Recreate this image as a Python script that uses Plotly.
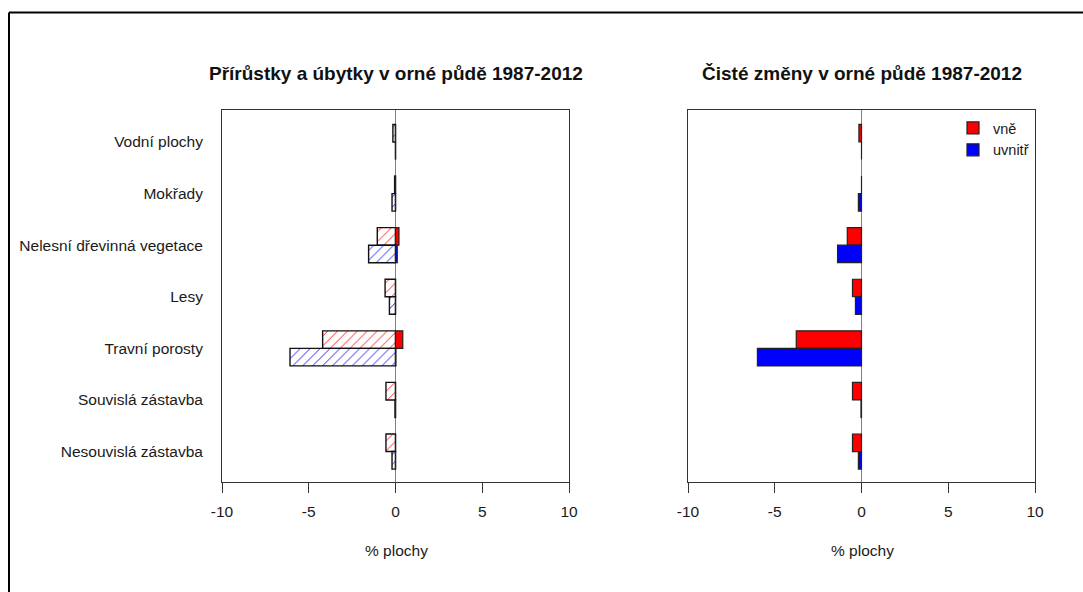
import plotly.graph_objects as go

categories = ["Vodní plochy", "Mokřady", "Nelesní dřevinná vegetace", "Lesy",
              "Travní porosty", "Souvislá zástavba", "Nesouvislá zástavba"]
# left panel: losses (hatched) and gains (solid), outside (red) / inside (blue)
loss_outside = [-0.15, -0.05, -1.05, -0.60, -4.20, -0.55, -0.55]
gain_outside = [0.0, 0.0, 0.20, 0.0, 0.42, 0.0, 0.0]
loss_inside = [0.0, -0.20, -1.55, -0.35, -6.08, -0.03, -0.20]
gain_inside = [0.0, 0.0, 0.10, 0.0, 0.02, 0.0, 0.0]
# right panel: net changes
net_outside = [-0.15, 0.0, -0.82, -0.52, -3.76, -0.52, -0.52]
net_inside = [0.0, -0.18, -1.38, -0.35, -6.00, -0.03, -0.18]
x_ticks = [-10, -5, 0, 5, 10]
x_tick_labels = ["-10", "-5", "0", "5", "10"]
series_names = ["vně", "uvnitř"]
title_left = "Přírůstky a úbytky v orné půdě 1987-2012"
title_right = "Čisté změny v orné půdě 1987-2012"
x_title = "% plochy"

W, H = 1083, 592
FONT = "Liberation Sans, Arial, sans-serif"
RED, BLUE = "#FF0000", "#0000FF"
BW = 0.34
TXT = "#1a1a1a"

def px(x):
    return x / W

def py(y):
    return 1 - y / H

fig = go.Figure()

def hatched(vals, color, offset, xa, ya):
    return go.Bar(y=categories, x=vals, orientation="h", width=BW, offset=offset,
                  xaxis=xa, yaxis=ya, showlegend=False, hoverinfo="x+y",
                  marker=dict(color="white", line=dict(color="#111", width=1.4),
                              pattern=dict(shape="/", fgcolor=color, bgcolor="white",
                                           size=7, solidity=0.12, fillmode="replace")))

def solid(vals, color, offset, xa, ya, name=None, legend=False):
    return go.Bar(y=categories, x=vals, orientation="h", width=BW, offset=offset,
                  xaxis=xa, yaxis=ya, showlegend=legend, name=name,
                  marker=dict(color=color, line=dict(color="#222", width=1.2)))

fig.add_trace(hatched(loss_outside, RED, -BW, "x", "y"))
fig.add_trace(solid(gain_outside, RED, -BW, "x", "y"))
fig.add_trace(hatched(loss_inside, BLUE, 0, "x", "y"))
fig.add_trace(solid(gain_inside, BLUE, 0, "x", "y"))
fig.add_trace(solid(net_outside, RED, -BW, "x2", "y2", series_names[0], True))
fig.add_trace(solid(net_inside, BLUE, 0, "x2", "y2", series_names[1], True))

yrange = [6.59, -0.62]
xcommon = dict(range=[-10, 10], tickvals=x_ticks, ticktext=x_tick_labels,
               ticks="outside", ticklen=10, ticklabelstandoff=5,
               tickcolor="#333", tickwidth=1, showline=True, mirror=True,
               linecolor="#333", linewidth=1, showgrid=False, zeroline=True,
               zerolinecolor="#808080", zerolinewidth=1,
               tickfont=dict(family=FONT, size=15.5, color=TXT), automargin=False,
               fixedrange=True)
ycommon = dict(type="category", range=yrange, showline=True, mirror=True,
               linecolor="#333", linewidth=1, showgrid=False, ticks="",
               automargin=False, fixedrange=True)

fig.update_layout(
    width=W, height=H, barmode="overlay",
    margin=dict(l=0, r=0, t=0, b=0),
    paper_bgcolor="white", plot_bgcolor="white",
    xaxis=dict(domain=[px(222), px(569)], anchor="y", **xcommon),
    yaxis=dict(domain=[py(482), py(110)], anchor="x", showticklabels=True,
               ticklabelstandoff=15,
               tickfont=dict(family=FONT, size=15.5, color=TXT), **ycommon),
    xaxis2=dict(domain=[px(688), px(1035)], anchor="y2", **xcommon),
    yaxis2=dict(domain=[py(482), py(110)], anchor="x2", showticklabels=False, **ycommon),
    legend=dict(x=px(953), y=py(112), xanchor="left", yanchor="top",
                bgcolor="rgba(0,0,0,0)", font=dict(family=FONT, size=14.5, color=TXT),
                tracegroupgap=0, itemwidth=30),
    showlegend=True,
    annotations=[
        dict(text="<b>" + title_left + "</b>", x=px(396), y=py(73), xref="paper", yref="paper",
             xanchor="center", yanchor="middle", showarrow=False,
             font=dict(family=FONT, size=19, color="#111")),
        dict(text="<b>" + title_right + "</b>", x=px(862), y=py(73), xref="paper", yref="paper",
             xanchor="center", yanchor="middle", showarrow=False,
             font=dict(family=FONT, size=19, color="#111")),
        dict(text=x_title, x=px(396), y=py(550), xref="paper", yref="paper",
             xanchor="center", yanchor="middle", showarrow=False,
             font=dict(family=FONT, size=15.5, color=TXT)),
        dict(text=x_title, x=px(862), y=py(550), xref="paper", yref="paper",
             xanchor="center", yanchor="middle", showarrow=False,
             font=dict(family=FONT, size=15.5, color=TXT)),
    ],
    shapes=[
        dict(type="line", xref="paper", yref="paper", x0=px(9), x1=px(1083),
             y0=py(12.5), y1=py(12.5), line=dict(color="black", width=2)),
        dict(type="line", xref="paper", yref="paper", x0=px(9), x1=px(9),
             y0=py(12.5), y1=0, line=dict(color="black", width=2)),
    ],
)

fig.write_html("out.html")
